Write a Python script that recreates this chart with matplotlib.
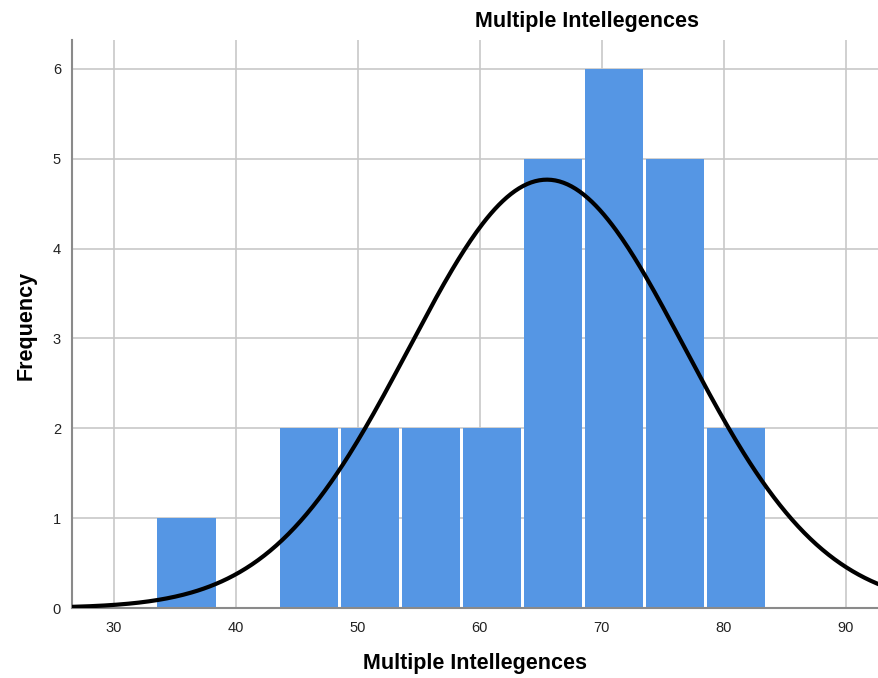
import numpy as np
import matplotlib
matplotlib.use("Agg")
import matplotlib.pyplot as plt

# histogram bins (width 5) and counts
bin_left = [33.5, 38.5, 43.5, 48.5, 53.5, 58.5, 63.5, 68.5, 73.5, 78.5]
counts = [1, 0, 2, 2, 2, 2, 5, 6, 5, 2]
BIN_W = 5.0

# fitted normal curve (SPSS overlay)
MEAN, SD, N = 65.5, 11.3, 27

x_ticks = [30, 40, 50, 60, 70, 80, 90]
y_ticks = [0, 1, 2, 3, 4, 5, 6]

BAR = "#5596e4"
GRID = "#c8c8c8"
SPINE = "#8a8a8a"
GAP = 0.2   # white gap between bars, data units

plt.rcParams["font.family"] = ["Liberation Sans", "DejaVu Sans"]

fig = plt.figure(figsize=(8.79, 6.78), dpi=100)
ax = fig.add_axes([72 / 879, 70 / 678, 807 / 879, 568 / 678])

ax.set_axisbelow(True)
ax.grid(True, color=GRID, lw=1.2)
ax.bar(np.array(bin_left) + GAP / 2, counts, width=BIN_W - GAP, align="edge",
       color=BAR, linewidth=0, zorder=2)

xs = np.linspace(26.6, 92.7, 400)
pdf = np.exp(-0.5 * ((xs - MEAN) / SD) ** 2) / (SD * np.sqrt(2 * np.pi))
ax.plot(xs, pdf * N * BIN_W, color="black", lw=3, zorder=3,
        solid_capstyle="butt")

ax.set_xlim(26.6, 92.7)
ax.set_ylim(0, 6.32)
ax.set_xticks(x_ticks)
ax.set_yticks(y_ticks)
ax.tick_params(length=0, labelsize=10.5, colors="#222222")
ax.tick_params(axis="x", pad=9)
ax.tick_params(axis="y", pad=8)
for s in ("top", "right"):
    ax.spines[s].set_visible(False)
ax.spines["left"].set_color(SPINE)
ax.spines["bottom"].set_color(SPINE)
ax.spines["left"].set_linewidth(1.5)
ax.spines["bottom"].set_linewidth(1.5)

fig.text(587.5 / 879, 1 - 21 / 678, "Multiple Intellegences", ha="center",
         va="center", fontsize=15.5, fontweight="bold")
fig.text(475 / 879, 1 - 664 / 678, "Multiple Intellegences", ha="center",
         va="center", fontsize=15.5, fontweight="bold")
fig.text(26 / 879, 1 - 325 / 678, "Frequency", ha="center", va="center",
         rotation=90, fontsize=15.5, fontweight="bold")

fig.savefig("out.png", dpi=100)
